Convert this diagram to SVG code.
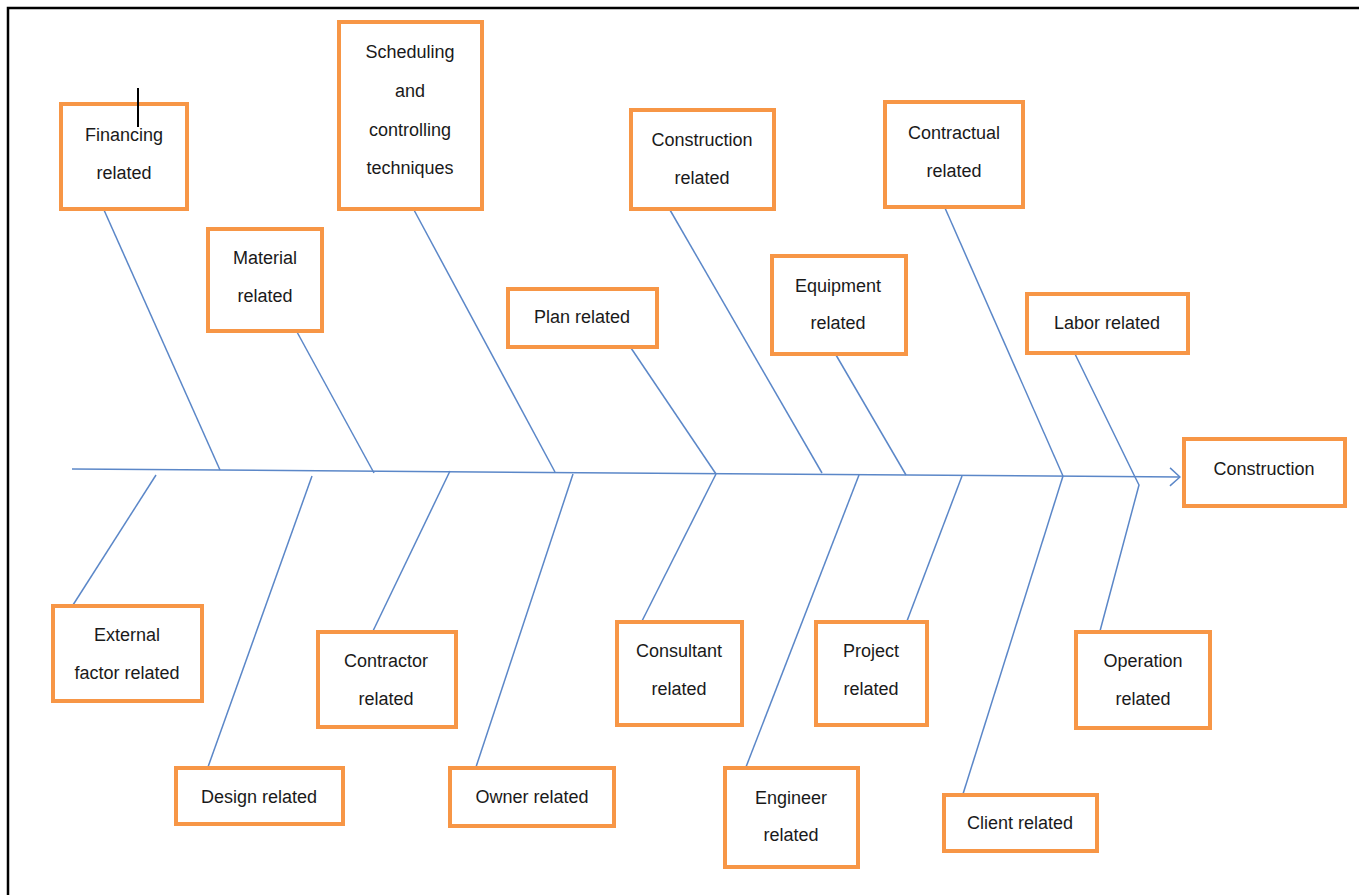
<svg xmlns="http://www.w3.org/2000/svg" width="1359" height="895" viewBox="0 0 1359 895">
<defs>
<style>
.box{fill:#fff;stroke:#F79646;stroke-width:4}
.t{font-family:"Liberation Sans",Arial,sans-serif;font-size:18px;fill:#1a1a1a;text-anchor:middle}
.bone{stroke:#5B87C8;stroke-width:1.5;fill:none}
</style>
<marker id="arr" viewBox="0 0 12 20" refX="11" refY="10" markerWidth="12" markerHeight="20" markerUnits="userSpaceOnUse" orient="auto">
<path d="M1,1 L11,10 L1,19" fill="none" stroke="#5B87C8" stroke-width="1.5"/>
</marker>
</defs>
<rect width="1359" height="895" fill="#fff"/>
<path d="M8,895 L8,8 L1359,8" fill="none" stroke="#000" stroke-width="2.5"/>
<g id="connectors">
<line class="bone" x1="72" y1="469" x2="1180" y2="477" marker-end="url(#arr)"/>
<line class="bone" x1="104" y1="210" x2="220" y2="470"/>
<line class="bone" x1="297" y1="332" x2="374" y2="473"/>
<line class="bone" x1="414" y1="210" x2="555" y2="472"/>
<line class="bone" x1="631" y1="348" x2="716" y2="474"/>
<line class="bone" x1="670" y1="210" x2="822" y2="473"/>
<line class="bone" x1="836" y1="355" x2="906" y2="475"/>
<line class="bone" x1="945" y1="208" x2="1063" y2="476"/>
<polyline class="bone" points="1075,354 1135,477 1139,485 1100,631"/>
<line class="bone" x1="156" y1="475" x2="73" y2="605"/>
<line class="bone" x1="312" y1="476" x2="208" y2="767"/>
<line class="bone" x1="450" y1="471" x2="373" y2="631"/>
<line class="bone" x1="573" y1="474" x2="476" y2="767"/>
<line class="bone" x1="716" y1="474" x2="642" y2="621"/>
<line class="bone" x1="859" y1="475" x2="746" y2="767"/>
<line class="bone" x1="962" y1="476" x2="907" y2="621"/>
<line class="bone" x1="1063" y1="476" x2="963" y2="794"/>
</g>
<g id="financing"><rect class="box" x="61" y="104" width="126" height="105"/><text class="t" x="124" y="141">Financing</text><text class="t" x="124" y="179">related</text></g>
<line x1="138" y1="88" x2="138" y2="127" stroke="#000" stroke-width="2"/>
<g id="material"><rect class="box" x="208" y="229" width="114" height="102"/><text class="t" x="265" y="264">Material</text><text class="t" x="265" y="302">related</text></g>
<g id="scheduling"><rect class="box" x="339" y="22" width="143" height="187"/><text class="t" x="410" y="58">Scheduling</text><text class="t" x="410" y="97">and</text><text class="t" x="410" y="136">controlling</text><text class="t" x="410" y="174">techniques</text></g>
<g id="plan"><rect class="box" x="508" y="289" width="149" height="58"/><text class="t" x="582" y="323">Plan related</text></g>
<g id="construction-related"><rect class="box" x="631" y="110" width="143" height="99"/><text class="t" x="702" y="146">Construction</text><text class="t" x="702" y="184">related</text></g>
<g id="equipment"><rect class="box" x="772" y="256" width="134" height="98"/><text class="t" x="838" y="292">Equipment</text><text class="t" x="838" y="329">related</text></g>
<g id="contractual"><rect class="box" x="885" y="102" width="138" height="105"/><text class="t" x="954" y="139">Contractual</text><text class="t" x="954" y="177">related</text></g>
<g id="labor"><rect class="box" x="1027" y="294" width="161" height="59"/><text class="t" x="1107" y="329">Labor related</text></g>
<g id="construction"><rect class="box" x="1184" y="439" width="161" height="67"/><text class="t" x="1264" y="475">Construction</text></g>
<g id="external"><rect class="box" x="53" y="606" width="149" height="95"/><text class="t" x="127" y="641">External</text><text class="t" x="127" y="679">factor related</text></g>
<g id="design"><rect class="box" x="176" y="768" width="167" height="56"/><text class="t" x="259" y="803">Design related</text></g>
<g id="contractor"><rect class="box" x="318" y="632" width="138" height="95"/><text class="t" x="386" y="667">Contractor</text><text class="t" x="386" y="705">related</text></g>
<g id="owner"><rect class="box" x="450" y="768" width="164" height="58"/><text class="t" x="532" y="803">Owner related</text></g>
<g id="consultant"><rect class="box" x="617" y="622" width="125" height="103"/><text class="t" x="679" y="657">Consultant</text><text class="t" x="679" y="695">related</text></g>
<g id="engineer"><rect class="box" x="725" y="768" width="133" height="99"/><text class="t" x="791" y="804">Engineer</text><text class="t" x="791" y="841">related</text></g>
<g id="project"><rect class="box" x="816" y="622" width="111" height="103"/><text class="t" x="871" y="657">Project</text><text class="t" x="871" y="695">related</text></g>
<g id="client"><rect class="box" x="944" y="795" width="153" height="56"/><text class="t" x="1020" y="829">Client related</text></g>
<g id="operation"><rect class="box" x="1076" y="632" width="134" height="96"/><text class="t" x="1143" y="667">Operation</text><text class="t" x="1143" y="705">related</text></g>
</svg>
